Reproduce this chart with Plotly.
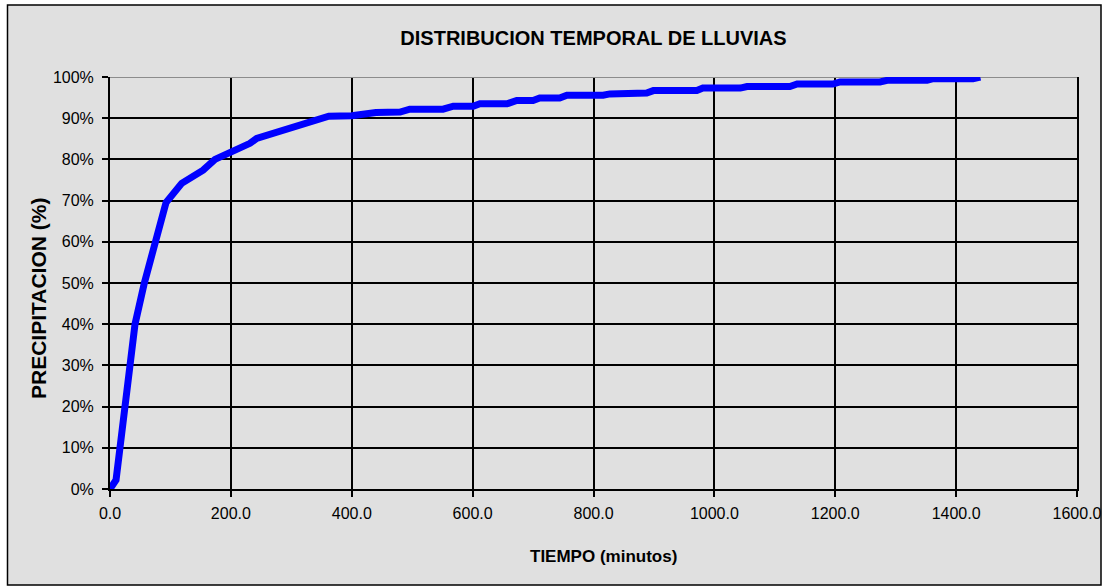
import plotly.graph_objects as go

# Curva acumulada de precipitación (tiempo en minutos, % acumulado)
tiempo_min = [0, 5, 10, 16.5, 24.8, 32, 41.4, 56.8, 76, 85.5, 92.7, 118.6, 154, 173.7,
              204, 231.6, 242.7, 275.8, 308.9, 345, 362, 400, 440, 480, 496, 551, 568,
              601, 612, 657, 673, 700, 711, 744, 756, 816, 827, 888, 899, 971, 981,
              1043, 1054, 1125, 1137, 1196, 1208, 1274, 1286, 1352, 1362, 1428, 1440]
precip_pct = [0, 1.0, 2.2, 10, 20, 30, 40, 50, 60, 66, 69.5, 74.2, 77.4, 80,
              81.9, 83.9, 85.1, 86.7, 88.3, 89.7, 90.5, 90.6, 91.4, 91.5, 92.2, 92.2, 92.9,
              92.9, 93.5, 93.5, 94.3, 94.3, 94.9, 94.9, 95.6, 95.6, 95.9, 96.1, 96.7, 96.7, 97.3,
              97.3, 97.7, 97.7, 98.3, 98.3, 98.8, 98.8, 99.2, 99.2, 99.6, 99.6, 100]

x_ticks = [0, 200, 400, 600, 800, 1000, 1200, 1400, 1600]
y_ticks = [0, 10, 20, 30, 40, 50, 60, 70, 80, 90, 100]
y_labels = [f"{v}%" for v in y_ticks]

W, H = 1103, 588
ML, MR, MT, MB = 110, 26, 77, 99
PW, PH = W - ML - MR, H - MT - MB

def px_x(p):
    return (p - ML) / PW

def px_y(p):
    return (H - MB - p) / PH

font_txt = "Liberation Sans, Arial, sans-serif"

fig = go.Figure()
fig.add_trace(go.Scatter(
    x=tiempo_min, y=precip_pct, mode="lines",
    line=dict(color="#0000ff", width=7), hoverinfo="skip", showlegend=False,
))

fig.update_layout(
    width=W, height=H, autosize=False,
    margin=dict(l=ML, r=MR, t=MT, b=MB, pad=0),
    paper_bgcolor="#ffffff",
    plot_bgcolor="#ffffcc",
    showlegend=False,
    title=dict(
        text="<b>DISTRIBUCION TEMPORAL DE LLUVIAS</b>",
        x=593.5 / W, xanchor="center", y=1 - 38 / H, yanchor="middle",
        font=dict(family=font_txt, size=20, color="#000000"),
    ),
    xaxis=dict(
        range=[0, 1600], tickvals=x_ticks, tickformat=".1f", automargin=False,
        showgrid=True, gridcolor="#000000", gridwidth=1.5,
        showline=True, linecolor="#000000", linewidth=2,
        ticks="outside", ticklen=6, tickwidth=1.5, tickcolor="#000000",
        tickfont=dict(family=font_txt, size=16, color="#000000"),
        ticklabelstandoff=3, zeroline=False,
    ),
    yaxis=dict(
        range=[0, 100], tickvals=y_ticks, ticktext=y_labels, automargin=False,
        showgrid=True, gridcolor="#000000", gridwidth=2,
        showline=True, linecolor="#000000", linewidth=2, mirror=True,
        ticks="outside", ticklen=6, tickwidth=1.5, tickcolor="#000000",
        tickfont=dict(family=font_txt, size=16, color="#000000"),
        ticklabelstandoff=5, zeroline=False,
    ),
    shapes=[
        # marco exterior del gráfico
        dict(type="rect", xref="paper", yref="paper",
             x0=px_x(7.5), x1=px_x(1101), y0=px_y(585), y1=px_y(5),
             fillcolor="#e0e0e0", line=dict(color="#000000", width=1.5), layer="below"),
        # borde superior del área de trazado
        dict(type="line", xref="x", yref="y", x0=0, x1=1600, y0=100, y1=100,
             line=dict(color="#8c8c8c", width=2), layer="between"),
    ],
    annotations=[
        dict(text="<b>TIEMPO (minutos)</b>", xref="paper", yref="paper",
             x=px_x(603), y=px_y(556), xanchor="center", yanchor="middle", showarrow=False,
             font=dict(family=font_txt, size=17, color="#000000")),
        dict(text="<b>PRECIPITACION (%)</b>", xref="paper", yref="paper",
             x=px_x(38), y=px_y(299), xanchor="center", yanchor="middle", showarrow=False,
             textangle=-90, font=dict(family=font_txt, size=21, color="#000000")),
    ],
)

fig.write_html("out.html")
